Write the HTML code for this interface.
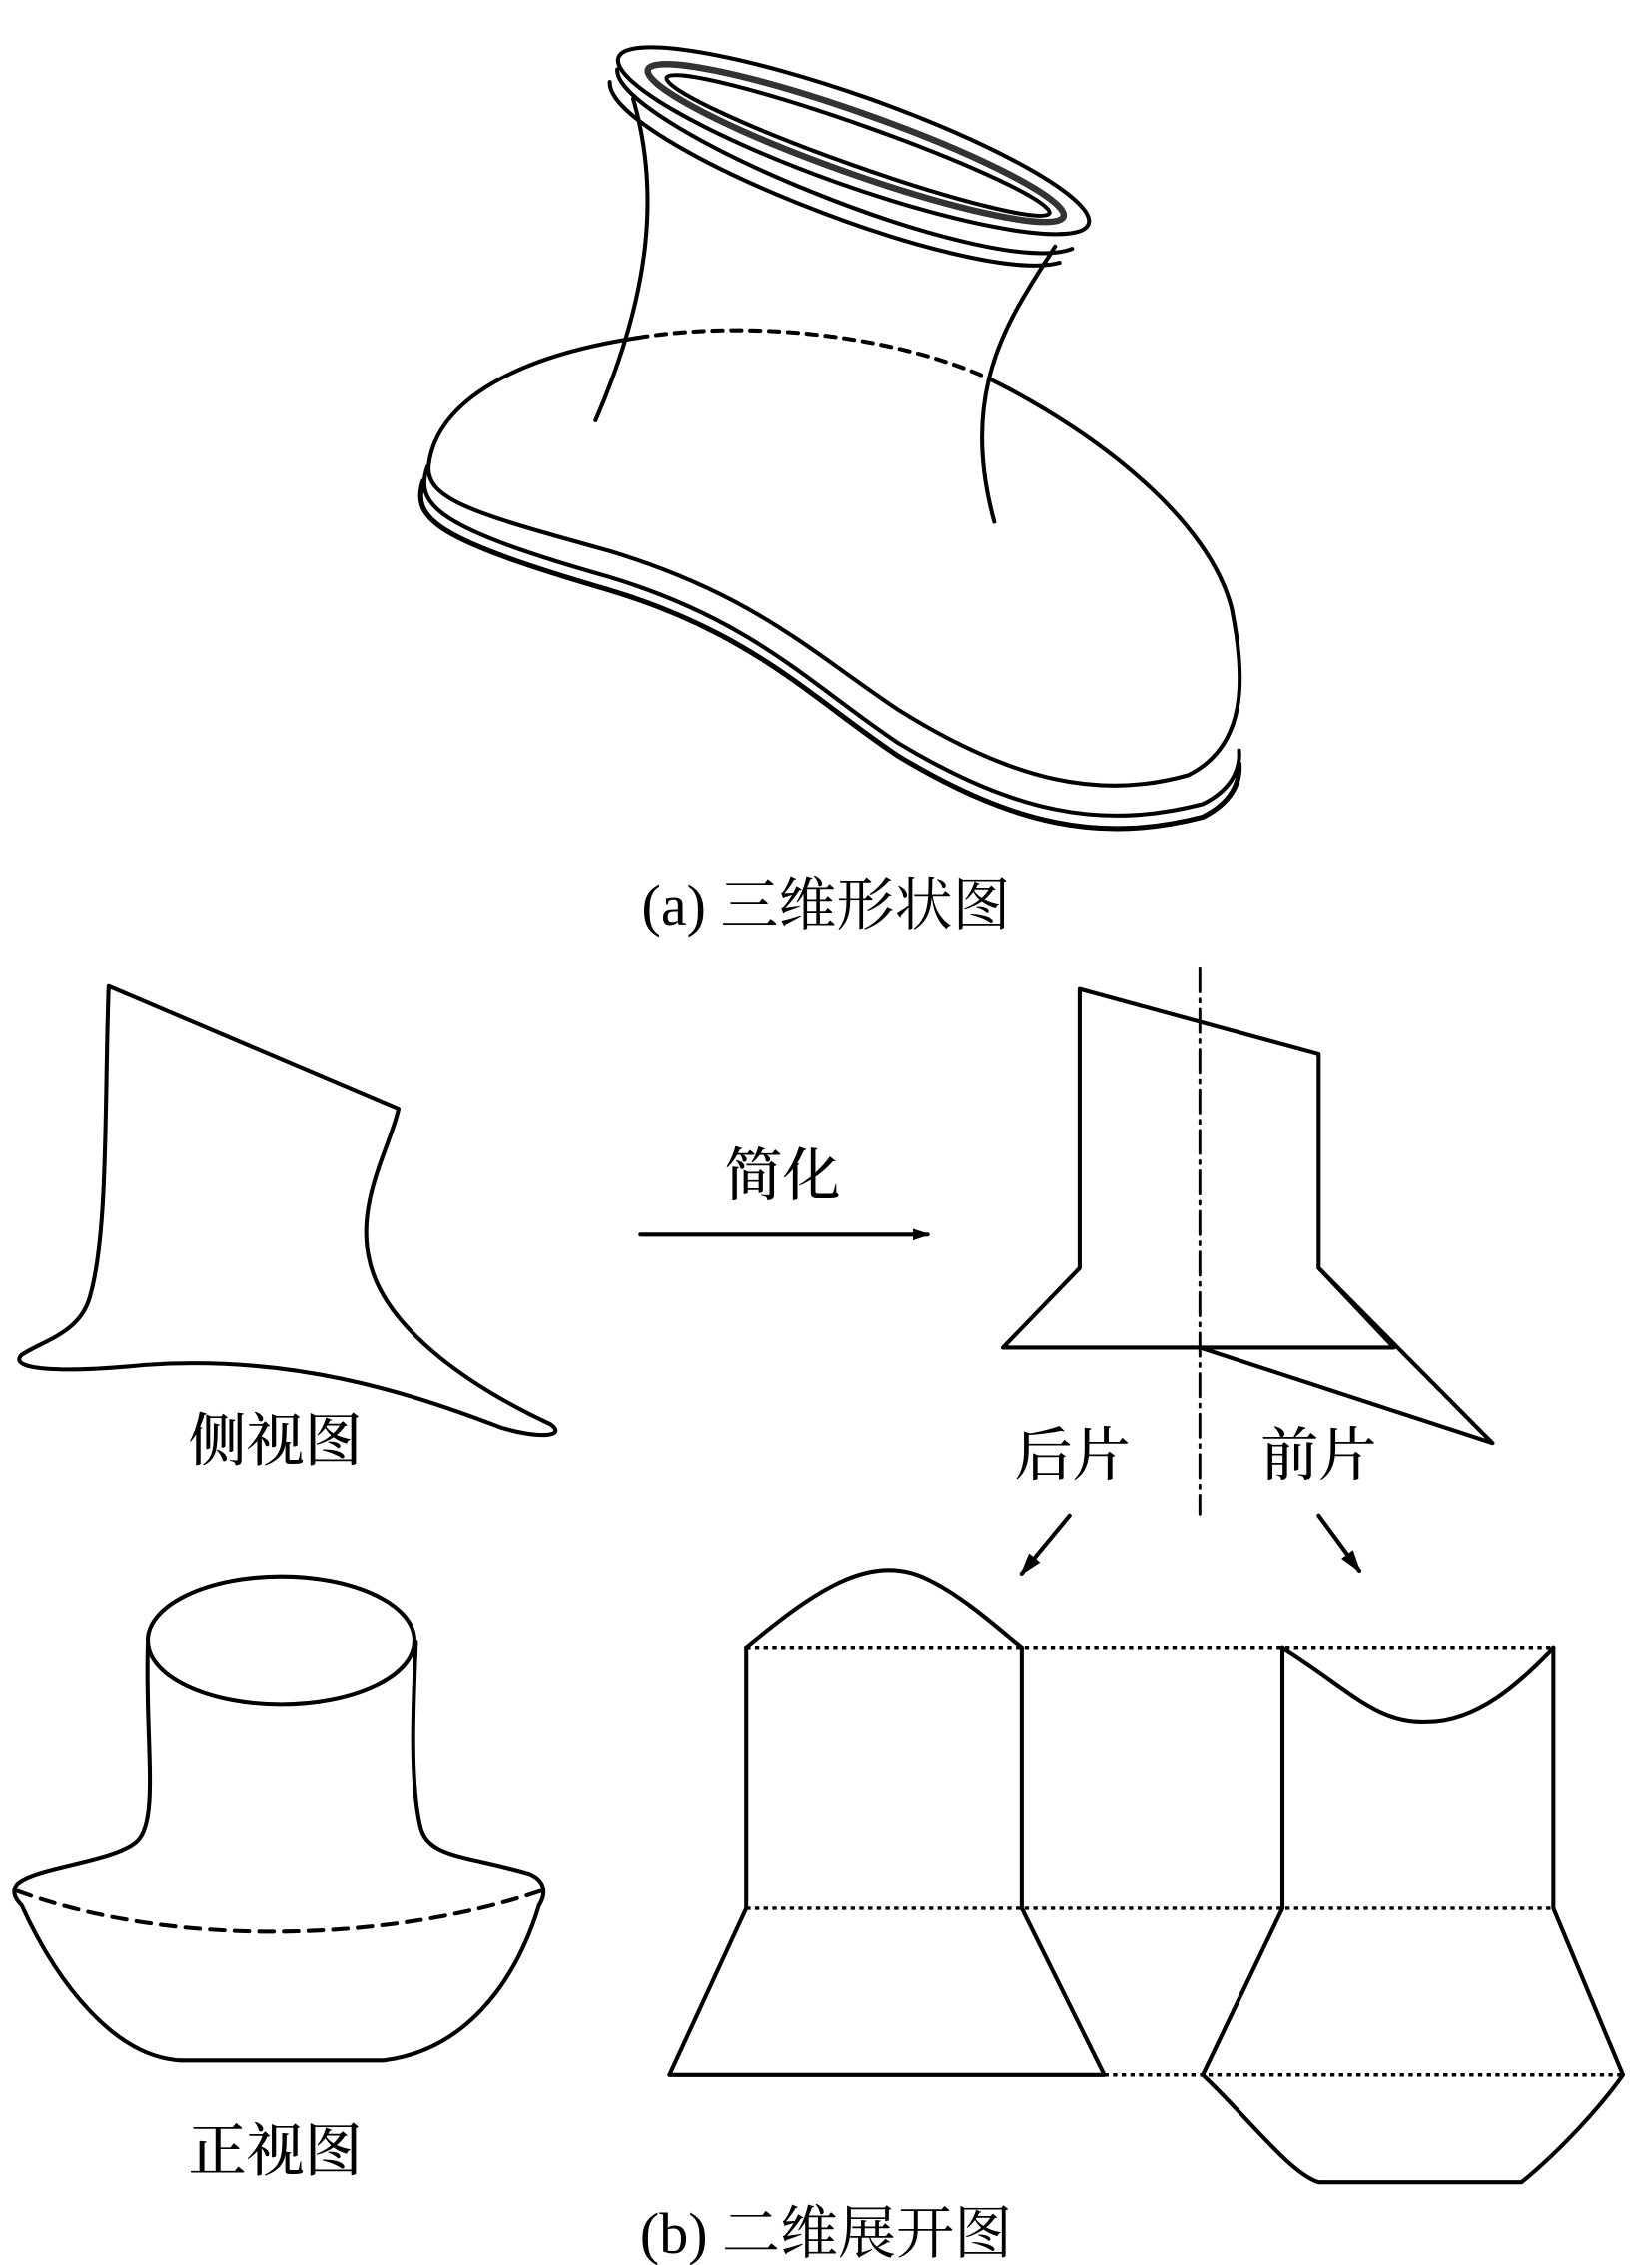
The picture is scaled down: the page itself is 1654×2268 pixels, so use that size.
<!DOCTYPE html>
<html><head><meta charset="utf-8"><style>
html,body{margin:0;padding:0;background:#fff;}
svg{display:block;}
text{font-family:"Liberation Serif","Noto Serif CJK SC","Noto Sans CJK SC",serif;fill:#000;}
</style></head><body>
<svg width="1654" height="2268" viewBox="0 0 1140 1563" xmlns="http://www.w3.org/2000/svg">
<defs><marker id="ah" markerWidth="12" markerHeight="10" refX="10" refY="5" orient="auto" markerUnits="userSpaceOnUse"><path d="M0,1 L12,5 L0,9 Z" fill="#000"/></marker>
<marker id="ah2" markerWidth="16" markerHeight="12" refX="14" refY="6" orient="auto" markerUnits="userSpaceOnUse"><path d="M0,1 L16,6 L0,11 Z" fill="#000"/></marker></defs>
<g fill="none" stroke="#000" stroke-width="2.8" stroke-linecap="round" stroke-linejoin="round">
<g transform="translate(589,97) rotate(19.5)">
<ellipse cx="0" cy="0" rx="172" ry="31"/>
<ellipse cx="2" cy="1" rx="152" ry="21" stroke-width="4.5" stroke="#333"/>
<ellipse cx="4" cy="2" rx="140" ry="14"/>
<path d="M-170,8 C-160,45 120,60 167,20" />
<path d="M-172,18 C-160,58 110,68 162,32"/>
</g>
<path d="M437,68 C455,130 450,200 411,290"/>
<path d="M728,170 C700,215 660,265 686,360"/>
<path d="M440,233 C360,245 302,275 296,320 C292,345 330,355 420,380 C520,410 560,450 620,490 C700,540 760,552 820,535 C860,515 860,470 850,420 C835,360 760,300 684,262"/>
<path d="M440,233 C520,220 620,232 684,262" stroke-dasharray="7,6"/>
<path d="M295,322 C286,348 300,364 420,398 C520,428 560,473 620,513 C700,561 760,573 830,555 C850,545 856,531 855,518"/>
<path d="M292,332 C284,358 300,372 420,407 C520,437 560,482 620,522 C700,570 760,582 830,564 C850,554 856,540 855,527" stroke-width="3.5"/>
<path d="M75,680 L275,765 C270,790 245,830 255,870 C265,915 320,955 380,983 C392,992 370,993 345,985 C280,960 200,935 100,942 C40,948 5,945 15,935 C30,925 55,920 62,895 C75,850 72,760 75,680 Z"/>
<line x1="442" y1="852" x2="640" y2="852" marker-end="url(#ah)"/>
<path d="M745,682 L910,727 L910,875 L962,930 L692,930 L745,875 Z"/>
<path d="M910,875 L1030,996 L828,930"/>
<line x1="828" y1="668" x2="828" y2="1045" stroke-width="2" stroke-dasharray="16,5,2,5"/>
<line x1="738" y1="1046" x2="705" y2="1086" marker-end="url(#ah2)"/>
<line x1="910" y1="1046" x2="938" y2="1084" marker-end="url(#ah2)"/>
<ellipse cx="194" cy="1132" rx="92" ry="44"/>
<path d="M102,1135 C100,1200 110,1255 95,1270 C80,1285 25,1288 12,1300 C8,1305 10,1310 15,1315 C40,1370 80,1420 125,1422 L265,1422 C320,1415 355,1370 372,1315 C378,1305 375,1297 365,1293 C320,1280 295,1282 290,1260 C283,1230 285,1180 287,1133"/>
<path d="M12,1305 C120,1345 270,1340 373,1305" stroke-dasharray="10,7"/>
<path d="M515,1137 C560,1100 600,1070 640,1090 C665,1102 690,1125 705,1137"/>
<path d="M515,1137 L515,1317 L462,1432 L762,1432 L705,1317 L705,1137"/>
<path d="M885,1137 C930,1165 950,1190 985,1188 C1020,1188 1050,1160 1072,1137"/>
<path d="M885,1137 L885,1317 L830,1432 C860,1460 890,1500 910,1506 L1050,1506 C1070,1490 1100,1460 1120,1432 L1072,1317 L1072,1137"/>
<g stroke-dasharray="3,3" stroke-width="2.4" stroke-linecap="butt">
<line x1="515" y1="1137" x2="1072" y2="1137"/>
<line x1="515" y1="1317" x2="1072" y2="1317"/>
<line x1="762" y1="1432" x2="1120" y2="1432"/>
</g>
</g>
<g font-size="40">
<text x="570" y="638" text-anchor="middle">(a)  三维形状图</text>
<text x="570" y="1555" text-anchor="middle">(b)  二维展开图</text>
</g>
<g font-size="40" font-weight="500" style="font-family:'Noto Sans CJK SC',sans-serif">
<text x="540" y="825" text-anchor="middle">简化</text>
<text x="190" y="1008" text-anchor="middle">侧视图</text>
<text x="740" y="1018" text-anchor="middle">后片</text>
<text x="910" y="1018" text-anchor="middle">前片</text>
<text x="190" y="1498" text-anchor="middle">正视图</text>
</g>
</svg>
</body></html>
